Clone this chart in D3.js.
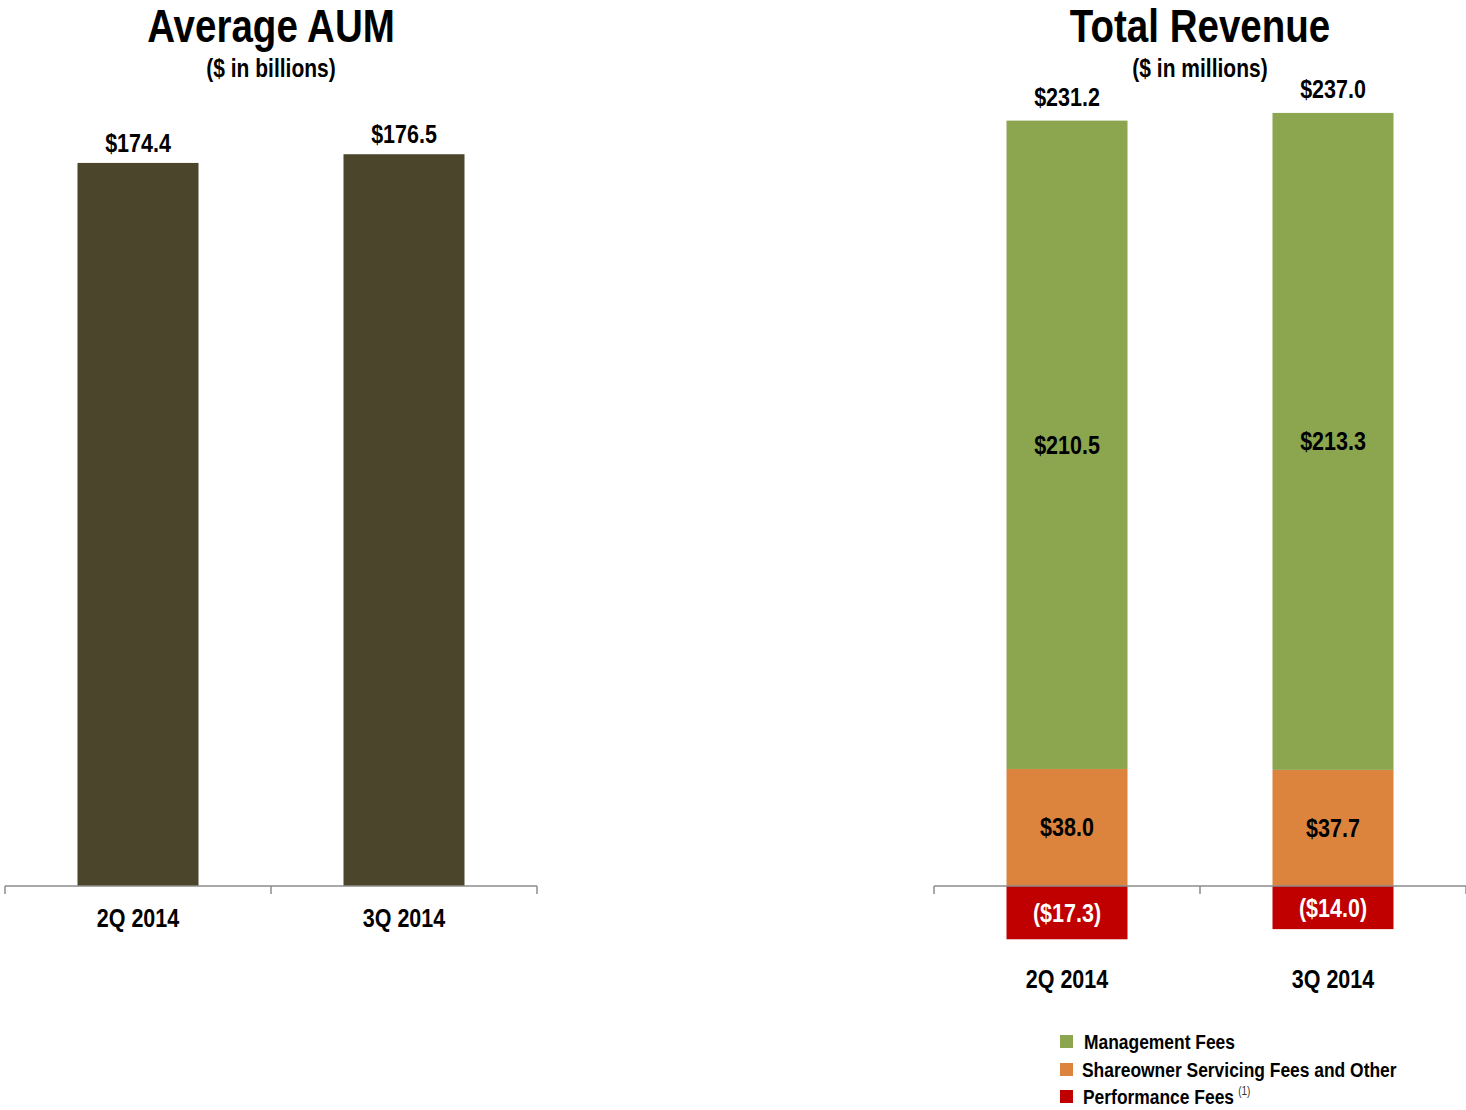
<!DOCTYPE html>
<html>
<head>
<meta charset="utf-8">
<script src="https://cdn.jsdelivr.net/npm/d3@7"></script>
<style>
  body { margin: 0; background: #fff; }
  svg text { font-family: "Liberation Sans Narrow", "Arial Narrow", "Liberation Sans", sans-serif; font-weight: bold; }
</style>
</head>
<body>
<svg id="chart" width="1466" height="1110"></svg>
<script>
// data
var quarters = ['2Q 2014', '3Q 2014'];
var aumValues = [174.4, 176.5];
var aumLabels = ['$174.4', '$176.5'];

var mgmtFees = [210.5, 213.3];
var shareownerFees = [38.0, 37.7];
var perfFees = [-17.3, -14.0];
var totalLabels = ['$231.2', '$237.0'];
var mgmtLabels = ['$210.5', '$213.3'];
var shareLabels = ['$38.0', '$37.7'];
var perfLabels = ['($17.3)', '($14.0)'];

var legendItems = [
    {name: 'Management Fees', color: '#8BA64F'},
    {name: 'Shareowner Servicing Fees and Other', color: '#DC843E'},
    {name: 'Performance Fees', color: '#C00000', note: '(1)'}
];

var svg = d3.select('#chart');
var axisColor = '#8c8c8c';

// no narrow font installed, so squeeze text horizontally
function narrow(sel, fx, fy, sx) {
    sx = sx || 0.82;
    return sel.attr('transform', function(d, i) {
        var x = typeof fx === 'function' ? fx(d, i) : fx;
        var y = typeof fy === 'function' ? fy(d, i) : fy;
        return 'translate(' + x + ',' + y + ') scale(' + sx + ',1)';
    });
}

function drawAxis(g, x, y0) {
    var r = x.range();
    g.append('line')
        .attr('x1', r[0]).attr('x2', r[1])
        .attr('y1', y0).attr('y2', y0)
        .attr('stroke', axisColor).attr('stroke-width', 1.5);
    var ticks = quarters.map(function(q) { return x(q); }).concat([r[1]]);
    g.selectAll('line.tick').data(ticks).enter().append('line')
        .attr('class', 'tick')
        .attr('x1', function(d) { return d; }).attr('x2', function(d) { return d; })
        .attr('y1', y0).attr('y2', y0 + 8)
        .attr('stroke', axisColor).attr('stroke-width', 1.5);
}

var valSize = '25px', valSx = 0.86;

// ---- left chart: Average AUM
var left = svg.append('g');
var xL = d3.scaleBand().domain(quarters).range([5, 537]);
var yL = d3.scaleLinear().domain([0, 200]).range([886, 56.8]);
var barW = 121;

narrow(left.append('text'), 271, 42).attr('text-anchor', 'middle')
    .style('font-size', '47px').text('Average AUM');
narrow(left.append('text'), 271, 77, 0.84).attr('text-anchor', 'middle')
    .style('font-size', '25px').text('($ in billions)');

left.selectAll('rect.aum').data(aumValues).enter().append('rect')
    .attr('class', 'aum')
    .attr('x', function(d, i) { return xL(quarters[i]) + xL.bandwidth() / 2 - barW / 2; })
    .attr('width', barW)
    .attr('y', function(d) { return yL(d); })
    .attr('height', function(d) { return yL(0) - yL(d); })
    .attr('fill', '#4B452B');

narrow(left.selectAll('text.val').data(aumValues).enter().append('text').attr('class', 'val'),
        function(d, i) { return xL(quarters[i]) + xL.bandwidth() / 2; },
        function(d) { return yL(d) - 11; }, valSx)
    .attr('text-anchor', 'middle').style('font-size', valSize)
    .text(function(d, i) { return aumLabels[i]; });

drawAxis(left, xL, 886);
narrow(left.selectAll('text.cat').data(quarters).enter().append('text').attr('class', 'cat'),
        function(d) { return xL(d) + xL.bandwidth() / 2; }, 927, valSx)
    .attr('text-anchor', 'middle').style('font-size', valSize)
    .text(function(d) { return d; });

// ---- right chart: Total Revenue
var right = svg.append('g');
var xR = d3.scaleBand().domain(quarters).range([934, 1466]);
var yR = d3.scaleLinear().domain([0, 250]).range([886, 116]);

narrow(right.append('text'), 1200, 42).attr('text-anchor', 'middle')
    .style('font-size', '47px').text('Total Revenue');
narrow(right.append('text'), 1200, 77, 0.84).attr('text-anchor', 'middle')
    .style('font-size', '25px').text('($ in millions)');

var cx = function(i) { return xR(quarters[i]) + xR.bandwidth() / 2; };

// shareowner at bottom, management on top, performance below zero
right.selectAll('rect.share').data(shareownerFees).enter().append('rect')
    .attr('x', function(d, i) { return cx(i) - barW / 2; }).attr('width', barW)
    .attr('y', function(d) { return yR(d); })
    .attr('height', function(d) { return yR(0) - yR(d); })
    .attr('fill', legendItems[1].color);

right.selectAll('rect.mgmt').data(mgmtFees).enter().append('rect')
    .attr('x', function(d, i) { return cx(i) - barW / 2; }).attr('width', barW)
    .attr('y', function(d, i) { return yR(d + shareownerFees[i]); })
    .attr('height', function(d, i) { return yR(shareownerFees[i]) - yR(d + shareownerFees[i]); })
    .attr('fill', legendItems[0].color);

right.selectAll('rect.perf').data(perfFees).enter().append('rect')
    .attr('x', function(d, i) { return cx(i) - barW / 2; }).attr('width', barW)
    .attr('y', yR(0))
    .attr('height', function(d) { return yR(d) - yR(0); })
    .attr('fill', legendItems[2].color);

drawAxis(right, xR, 886);

narrow(right.selectAll('text.tot').data(mgmtFees).enter().append('text'),
        function(d, i) { return cx(i); },
        function(d, i) { return yR(d + shareownerFees[i]) - 15; }, valSx)
    .attr('text-anchor', 'middle').style('font-size', valSize)
    .text(function(d, i) { return totalLabels[i]; });

narrow(right.selectAll('text.mg').data(mgmtFees).enter().append('text'),
        function(d, i) { return cx(i); },
        function(d, i) { return yR(shareownerFees[i] + d / 2) + 9; }, valSx)
    .attr('text-anchor', 'middle').style('font-size', valSize)
    .text(function(d, i) { return mgmtLabels[i]; });

narrow(right.selectAll('text.sh').data(shareownerFees).enter().append('text'),
        function(d, i) { return cx(i); },
        function(d) { return yR(d / 2) + 9; }, valSx)
    .attr('text-anchor', 'middle').style('font-size', valSize)
    .text(function(d, i) { return shareLabels[i]; });

narrow(right.selectAll('text.pf').data(perfFees).enter().append('text'),
        function(d, i) { return cx(i); },
        function(d) { return yR(d / 2) + 9; }, valSx)
    .attr('text-anchor', 'middle').style('font-size', valSize).attr('fill', '#fff')
    .text(function(d, i) { return perfLabels[i]; });

narrow(right.selectAll('text.cat').data(quarters).enter().append('text'),
        function(d, i) { return cx(i); }, 988, valSx)
    .attr('text-anchor', 'middle').style('font-size', valSize)
    .text(function(d) { return d; });

// legend
var legendY = [1042, 1070, 1097];
var legendDx = [24, 22, 23];
var leg = right.selectAll('g.leg').data(legendItems).enter().append('g')
    .attr('transform', function(d, i) { return 'translate(1060,' + legendY[i] + ')'; });
leg.append('rect').attr('x', 0).attr('y', -7).attr('width', 13).attr('height', 13)
    .attr('fill', function(d) { return d.color; });
var lt = narrow(leg.append('text'), function(d, i) { return legendDx[i]; }, 7, 0.83)
    .style('font-size', '21px')
    .text(function(d) { return d.name; });
lt.filter(function(d) { return d.note; }).append('tspan')
    .attr('dx', 5).attr('dy', -9).style('font-size', '12px').style('font-weight', 'normal')
    .attr('fill', '#333')
    .text(function(d) { return d.note; });
</script>
</body>
</html>
